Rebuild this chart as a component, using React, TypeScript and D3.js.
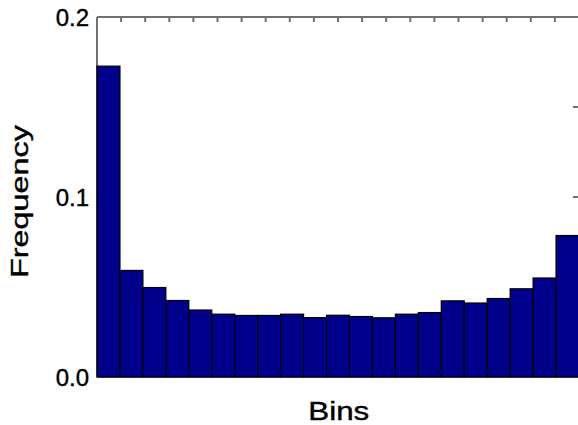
import React, { useEffect, useRef } from "react";
import * as d3 from "d3";

// histogram frequencies, one per bin
const binLabels = ["1", "2", "3", "4", "5", "6", "7", "8", "9", "10", "11",
  "12", "13", "14", "15", "16", "17", "18", "19", "20", "21"];
const freq = [0.1727, 0.0592, 0.0497, 0.0425, 0.0372, 0.0349, 0.0342, 0.0342,
  0.0349, 0.0330, 0.0343, 0.0336, 0.0329, 0.0349, 0.0358, 0.0423, 0.0411,
  0.0436, 0.0490, 0.0550, 0.0786];
const yTicks = [0, 0.1, 0.2];
const yMinor = [0.05, 0.1, 0.15];
const xMinor = [0.05, 0.1, 0.15, 0.2, 0.25, 0.3, 0.35, 0.4, 0.45, 0.5, 0.55,
  0.6, 0.65, 0.7, 0.75, 0.8, 0.85, 0.9, 0.95];

export default function App() {
  const svgRef = useRef<SVGSVGElement>(null);

  useEffect(() => {
    const w = 578;
    const h = 425;
    const left = 97, right = 579, top = 17, bottom = 377;
    const axisColor = "#707070";
    const font = "'Liberation Sans', Arial, Helvetica, sans-serif";

    const svg = d3.select(svgRef.current)
      .attr("width", w)
      .attr("height", h)
      .style("background", "#fff");
    svg.selectAll("*").remove();

    const x = d3.scaleBand<string>()
      .domain(binLabels)
      .range([left, right])
      .padding(0);
    const xLin = d3.scaleLinear().domain([0, 1]).range([left, right]);
    const y = d3.scaleLinear()
      .domain([0, 0.2])
      .range([bottom, top]);

    // frame (drawn first, bars sit on top of it)
    const frame = svg.append("g")
      .attr("stroke", axisColor)
      .attr("stroke-width", 2)
      .attr("fill", "none");
    frame.append("line").attr("x1", left).attr("x2", right).attr("y1", top).attr("y2", top);
    frame.append("line").attr("x1", left).attr("x2", right).attr("y1", bottom).attr("y2", bottom);
    frame.append("line").attr("x1", left).attr("x2", left).attr("y1", top).attr("y2", bottom);
    frame.append("line").attr("x1", right).attr("x2", right).attr("y1", top).attr("y2", bottom);

    // inward ticks on the top edge
    frame.selectAll(".xt")
      .data(xMinor)
      .join("line")
      .attr("x1", d => xLin(d)).attr("x2", d => xLin(d))
      .attr("y1", top).attr("y2", top + 5);

    // inward ticks on the right edge
    frame.selectAll(".yt")
      .data(yMinor)
      .join("line")
      .attr("x1", right - 6).attr("x2", right)
      .attr("y1", d => y(d)).attr("y2", d => y(d));

    // bars
    svg.append("g")
      .selectAll("rect")
      .data(freq)
      .join("rect")
      .attr("x", (d, i) => x(binLabels[i])!)
      .attr("y", d => y(d))
      .attr("width", x.bandwidth())
      .attr("height", d => y(0) - y(d))
      .attr("fill", "#00008b")
      .attr("stroke", "#000")
      .attr("stroke-width", 1.2);

    // y tick labels
    svg.append("g")
      .selectAll("text")
      .data(yTicks)
      .join("text")
      .attr("x", 89)
      .attr("y", d => y(d) + 9)
      .attr("text-anchor", "end")
      .attr("font-family", font)
      .attr("font-size", 24)
      .attr("fill", "#000")
      .attr("stroke", "#000")
      .attr("stroke-width", 0.4)
      .text(d => d3.format(".1f")(d));

    svg.append("text")
      .attr("x", 338.8)
      .attr("y", 420)
      .attr("text-anchor", "middle")
      .attr("font-family", font)
      .attr("font-size", 25)
      .attr("stroke", "#000")
      .attr("stroke-width", 0.4)
      .attr("textLength", 61)
      .attr("lengthAdjust", "spacingAndGlyphs")
      .text("Bins");

    svg.append("text")
      .attr("transform", "translate(27.5,201.5) rotate(-90)")
      .attr("text-anchor", "middle")
      .attr("font-family", font)
      .attr("font-size", 24)
      .attr("stroke", "#000")
      .attr("stroke-width", 0.4)
      .attr("textLength", 153)
      .attr("lengthAdjust", "spacingAndGlyphs")
      .text("Frequency");
  }, []);

  return (
    <div style={{ position: "absolute", left: 0, top: 0 }}>
      <svg ref={svgRef} style={{ display: "block" }}></svg>
    </div>
  );
}
